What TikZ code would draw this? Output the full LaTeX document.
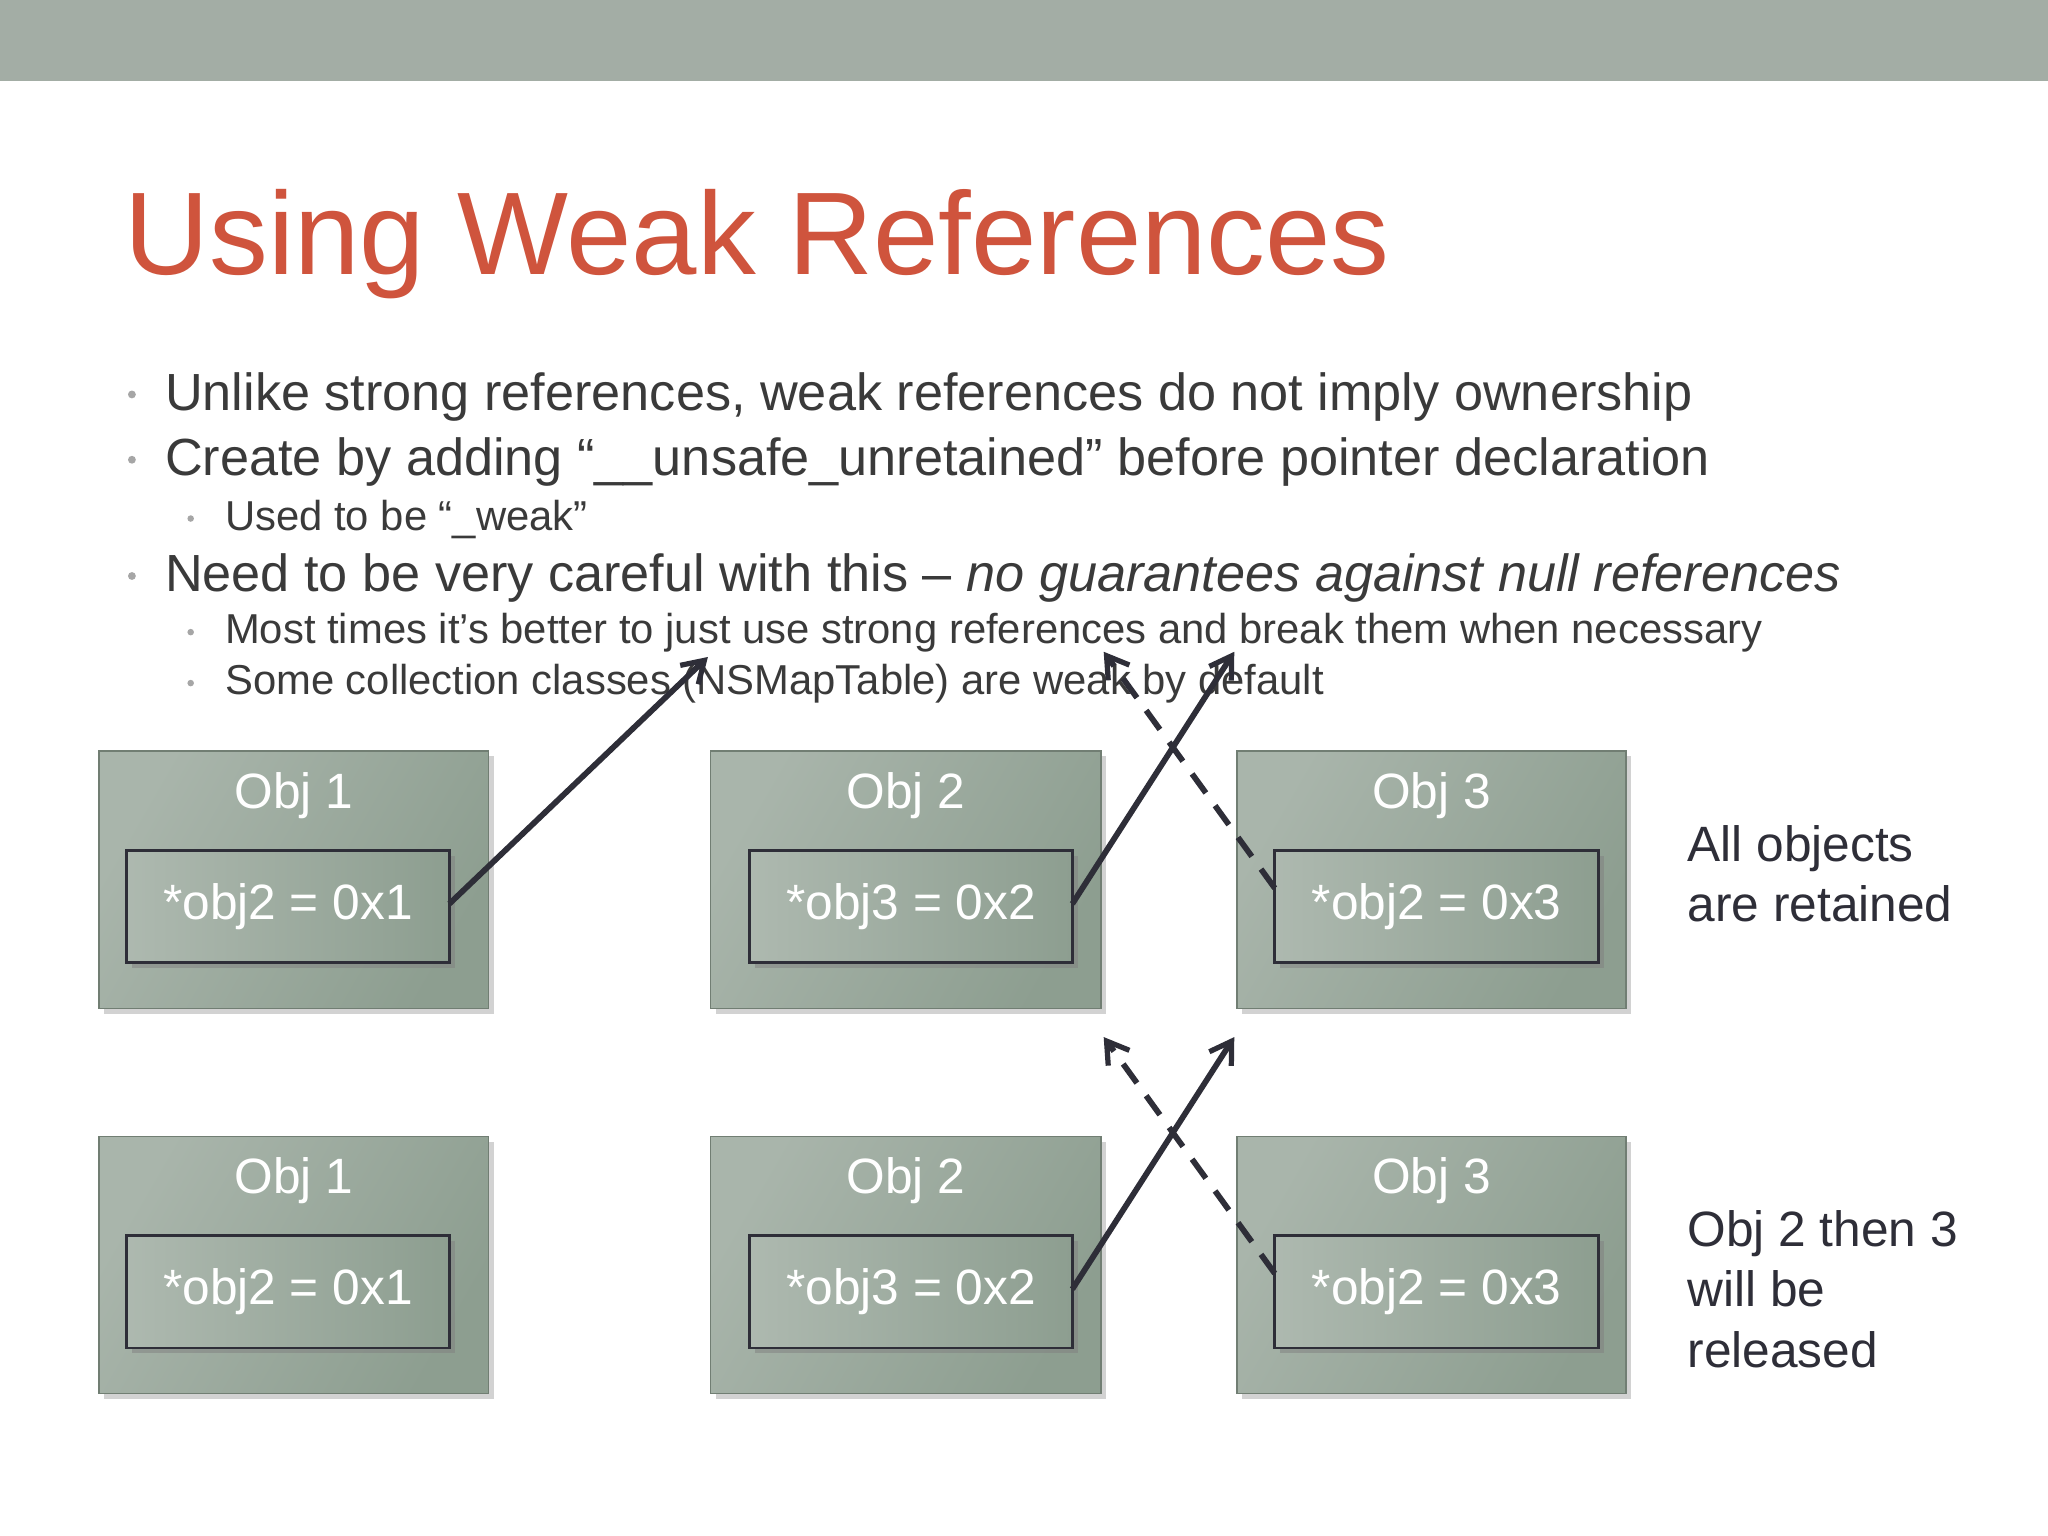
\documentclass[tikz,border=0pt]{standalone}
\usepackage{fontspec}
\setmainfont{Liberation Sans}
\usetikzlibrary{arrows.meta,shadows}
\definecolor{bar}{HTML}{A3ADA5}
\definecolor{ttl}{HTML}{CF543D}
\definecolor{txt}{HTML}{3A3A3A}
\definecolor{boxa}{HTML}{A9B5AB}
\definecolor{boxb}{HTML}{8D9E90}
\definecolor{arr}{HTML}{2E2E38}
\tikzset{
 outer/.style={draw=boxb!80!black, line width=0.6pt, left color=boxa, right color=boxb, shading angle=60, drop shadow={shadow xshift=2pt,shadow yshift=-2pt,opacity=0.35}},
 inner/.style={draw=arr, line width=1pt, left color=boxa!95!white, right color=boxb, drop shadow={shadow xshift=2pt,shadow yshift=-2pt,opacity=0.5}},
 btxt/.style={font=\fontsize{19}{22}\selectfont, text=white},
 strong/.style={-{Straight Barb[length=8pt,width=10pt,line width=2pt]}, line width=2.2pt, draw=arr},
 weak/.style={strong, dash pattern=on 9pt off 6pt},
 bul/.style={anchor=base west, text=txt, font=\fontsize{20}{24}\selectfont},
 sbul/.style={anchor=base west, text=txt, font=\fontsize{16}{19}\selectfont},
 dot/.style={circle, fill=gray!70, inner sep=0pt, minimum size=3pt}
}
\begin{document}
\begin{tikzpicture}[x=0.5pt,y=-0.5pt]
\useasboundingbox (0,0) rectangle (1568,1176);
\fill[white] (0,0) rectangle (1568,1176);
\fill[bar] (0,0) rectangle (1568,62);
\node[anchor=base west, text=ttl, font=\fontsize{45}{50}\selectfont, inner sep=0] (title) at (95,210) {Using Weak References};
% bullets
\node[dot] (d1) at (101,302) {};
\node[bul, inner sep=0] (b1) at (126,314) {Unlike strong references, weak references do not imply ownership};
\node[dot] (d2) at (101,352) {};
\node[bul, inner sep=0] (b2) at (126,364) {Create by adding “\_\_unsafe\_unretained” before pointer declaration};
\node[dot,minimum size=2.5pt] (d3) at (146,397) {};
\node[sbul, inner sep=0] (b3) at (172,406) {Used to be “\_weak”};
\node[dot] (d4) at (101,441) {};
\node[bul, inner sep=0] (b4) at (126,453) {Need to be very careful with this – \textit{no guarantees against null references}};
\node[dot,minimum size=2.5pt] (d5) at (146,484) {};
\node[sbul, inner sep=0] (b5) at (172,493) {Most times it’s better to just use strong references and break them when necessary};
\node[dot,minimum size=2.5pt] (d6) at (146,523) {};
\node[sbul, inner sep=0] (b6) at (172,532) {Some collection classes (NSMapTable) are weak by default};
% boxes
\foreach \r/\dy in {a/0,b/295}{
 \foreach \n/\xa/\xb/\ia/\ib/\lab/\val in {1/76/374/97/344/Obj 1/*obj2 = 0x1, 2/544/843/574/821/Obj 2/*obj3 = 0x2, 3/947/1245/976/1224/Obj 3/*obj2 = 0x3}{
  \path[outer] (\xa,575+\dy) rectangle (\xb,772+\dy);
  \coordinate (o\r\n) at (\xa,575+\dy);
  \coordinate (O\r\n) at (\xb,575+\dy);
  \node[btxt] at ({(\xa+\xb)/2},609+\dy) {\lab};
  \path[inner] (\ia,651+\dy) rectangle (\ib,737+\dy);
  \node[btxt] at ({(\ia+\ib)/2},694+\dy) {\val};
  \coordinate (il\r\n) at (\ia,680+\dy);
  \coordinate (ir\r\n) at (\ib,692+\dy);
 }
}
\draw[strong] (344,692) -- ([xshift=-1pt,yshift=36]oa2);
\foreach \r in {a,b}{
 \draw[strong] (ir\r2) -- ([xshift=-1pt,yshift=38]o\r3);
 \draw[weak] (il\r3) -- ([xshift=1pt,yshift=38]O\r2);
}
\node[anchor=north west, align=left, text=arr, font=\fontsize{19}{23}\selectfont] (l1) at (1285,625) {All objects\\are retained};
\node[anchor=north west, align=left, text=arr, font=\fontsize{19}{23}\selectfont] (l2) at (1285,920) {Obj 2 then 3\\will be\\released};
\end{tikzpicture}
\end{document}
